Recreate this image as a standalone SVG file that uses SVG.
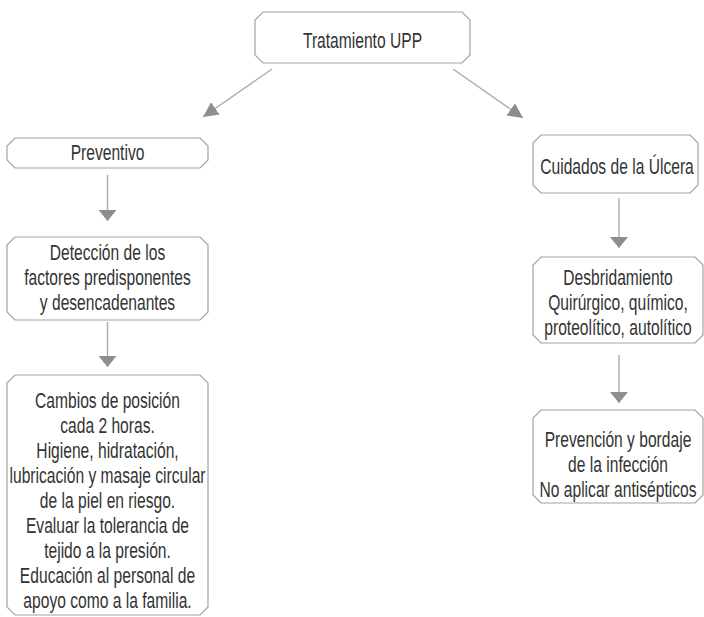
<svg xmlns="http://www.w3.org/2000/svg" width="704" height="617" viewBox="0 0 704 617">
<style>
.box{fill:#fff;stroke:#a3a3a3;stroke-width:1.2}
.t{font-family:"Liberation Sans",Arial,sans-serif;font-size:22px;fill:#333;text-anchor:middle}
.ln{stroke:#ababab;stroke-width:1.4;fill:none}
</style>
<defs>
<marker id="ah" viewBox="0 0 11 18" markerWidth="11" markerHeight="18" refX="11" refY="9" orient="auto" markerUnits="userSpaceOnUse">
<path d="M0,0 L11,9 L0,18 z" fill="#8e8e8e"/>
</marker>
<marker id="ahd" viewBox="0 0 15 15" markerWidth="15" markerHeight="15" refX="15" refY="7.5" orient="auto" markerUnits="userSpaceOnUse">
<path d="M0,0 L15,7.5 L0,15 z" fill="#8e8e8e"/>
</marker>
</defs>
<rect width="704" height="617" fill="#fff"/>
<g id="connectors">
<line class="ln" x1="272" y1="69" x2="203" y2="117" marker-end="url(#ahd)"/>
<line class="ln" x1="453" y1="69" x2="523" y2="118" marker-end="url(#ahd)"/>
<line class="ln" x1="107.5" y1="175" x2="107.5" y2="221" marker-end="url(#ah)"/>
<line class="ln" x1="107.5" y1="322" x2="107.5" y2="367" marker-end="url(#ah)"/>
<line class="ln" x1="619" y1="198" x2="619" y2="248" marker-end="url(#ah)"/>
<line class="ln" x1="619" y1="355" x2="619" y2="403" marker-end="url(#ah)"/>
</g>
<g id="n-tratamiento">
<polygon class="box" points="263,12 462,12 470,20 470,55 462,63 263,63 255,55 255,20"/>
<text class="t" transform="translate(362.5,0) scale(0.71,1)" x="0" y="48">Tratamiento UPP</text>
</g>
<g id="n-preventivo">
<polygon class="box" points="15,138 200,138 208,146 208,160 200,168 15,168 7,160 7,146"/>
<text class="t" transform="translate(107.5,0) scale(0.71,1)" x="0" y="160">Preventivo</text>
</g>
<g id="n-deteccion">
<polygon class="box" points="15,237 200,237 208,245 208,312 200,320 15,320 7,312 7,245"/>
<text class="t" transform="translate(107.5,0) scale(0.71,1)" x="0" y="260">Detección de los</text>
<text class="t" transform="translate(107.5,0) scale(0.71,1)" x="0" y="285">factores predisponentes</text>
<text class="t" transform="translate(107.5,0) scale(0.71,1)" x="0" y="310">y desencadenantes</text>
</g>
<g id="n-cambios">
<polygon class="box" points="15,375 200,375 208,383 208,607 200,615 15,615 7,607 7,383"/>
<g class="t" transform="translate(107.5,0) scale(0.71,1)">
<text x="0" y="408">Cambios de posición</text>
<text x="0" y="433">cada 2 horas.</text>
<text x="0" y="458">Higiene, hidratación,</text>
<text x="0" y="483">lubricación y masaje circular</text>
<text x="0" y="508">de la piel en riesgo.</text>
<text x="0" y="533">Evaluar la tolerancia de</text>
<text x="0" y="558">tejido a la presión.</text>
<text x="0" y="583">Educación al personal de</text>
<text x="0" y="608">apoyo como a la familia.</text>
</g>
</g>
<g id="n-cuidados">
<polygon class="box" points="541,135 690,135 698,143 698,185 690,193 541,193 533,185 533,143"/>
<text class="t" transform="translate(617,0) scale(0.71,1)" x="0" y="174">Cuidados de la Úlcera</text>
</g>
<g id="n-desbridamiento">
<polygon class="box" points="541,257 695,257 703,265 703,335 695,343 541,343 533,335 533,265"/>
<g class="t" transform="translate(618,0) scale(0.71,1)">
<text x="0" y="285">Desbridamiento</text>
<text x="0" y="310">Quirúrgico, químico,</text>
<text x="0" y="335">proteolítico, autolítico</text>
</g>
</g>
<g id="n-prevencion">
<polygon class="box" points="541,410 695,410 703,418 703,495 695,503 541,503 533,495 533,418"/>
<g class="t" transform="translate(618,0) scale(0.71,1)">
<text x="0" y="447">Prevención y bordaje</text>
<text x="0" y="472">de la infección</text>
<text x="0" y="497">No aplicar antisépticos</text>
</g>
</g>
</svg>
